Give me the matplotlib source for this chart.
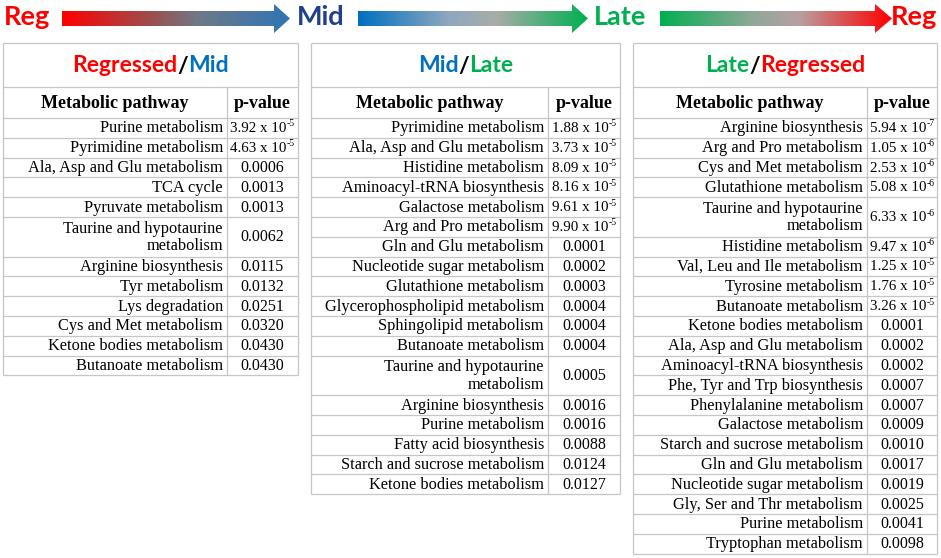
import numpy as np
import matplotlib
matplotlib.use("Agg")
import matplotlib.pyplot as plt
from matplotlib.colors import LinearSegmentedColormap
from matplotlib.patches import Polygon

RED = '#FF0000'
BLUE = '#0070C0'
NAVY = '#203F8F'
GREEN = '#00B050'
GRID = '#C6C6C6'
SERIF = 'Liberation Serif'

# ---- data ----
reg_mid_path = ["Purine metabolism", "Pyrimidine metabolism", "Ala, Asp and Glu metabolism",
                "TCA cycle", "Pyruvate metabolism", "Taurine and hypotaurine\nmetabolism",
                "Arginine biosynthesis", "Tyr metabolism", "Lys degradation",
                "Cys and Met metabolism", "Ketone bodies metabolism", "Butanoate metabolism"]
reg_mid_p = ["3.92e-5", "4.63e-5", "0.0006", "0.0013", "0.0013", "0.0062",
             "0.0115", "0.0132", "0.0251", "0.0320", "0.0430", "0.0430"]

mid_late_path = ["Pyrimidine metabolism", "Ala, Asp and Glu metabolism", "Histidine metabolism",
                 "Aminoacyl-tRNA biosynthesis", "Galactose metabolism", "Arg and Pro metabolism",
                 "Gln and Glu metabolism", "Nucleotide sugar metabolism", "Glutathione metabolism",
                 "Glycerophospholipid metabolism", "Sphingolipid metabolism", "Butanoate metabolism",
                 "Taurine and hypotaurine\nmetabolism", "Arginine biosynthesis", "Purine metabolism",
                 "Fatty acid biosynthesis", "Starch and sucrose metabolism", "Ketone bodies metabolism"]
mid_late_p = ["1.88e-5", "3.73e-5", "8.09e-5", "8.16e-5", "9.61e-5", "9.90e-5",
              "0.0001", "0.0002", "0.0003", "0.0004", "0.0004", "0.0004",
              "0.0005", "0.0016", "0.0016", "0.0088", "0.0124", "0.0127"]

late_reg_path = ["Arginine biosynthesis", "Arg and Pro metabolism", "Cys and Met metabolism",
                 "Glutathione metabolism", "Taurine and hypotaurine\nmetabolism", "Histidine metabolism",
                 "Val, Leu and Ile metabolism", "Tyrosine metabolism", "Butanoate metabolism",
                 "Ketone bodies metabolism", "Ala, Asp and Glu metabolism", "Aminoacyl-tRNA biosynthesis",
                 "Phe, Tyr and Trp biosynthesis", "Phenylalanine metabolism", "Galactose metabolism",
                 "Starch and sucrose metabolism", "Gln and Glu metabolism", "Nucleotide sugar metabolism",
                 "Gly, Ser and Thr metabolism", "Purine metabolism", "Tryptophan metabolism"]
late_reg_p = ["5.94e-7", "1.05e-6", "2.53e-6", "5.08e-6", "6.33e-6", "9.47e-6",
              "1.25e-5", "1.76e-5", "3.26e-5", "0.0001", "0.0002", "0.0002",
              "0.0007", "0.0007", "0.0009", "0.0010", "0.0017", "0.0019",
              "0.0025", "0.0041", "0.0098"]

titles = [[("Regressed", RED), ("/", "black"), ("Mid", BLUE)],
          [("Mid", BLUE), ("/", "black"), ("Late", GREEN)],
          [("Late", GREEN), ("/", "black"), ("Regressed", RED)]]

stages = [("Reg", RED), ("Mid", NAVY), ("Late", GREEN), ("Reg", RED)]


fig = plt.figure(figsize=(9.41, 5.58), dpi=100)
ax = fig.add_axes([0, 0, 1, 1])
ax.set_xlim(0, 941)
ax.set_ylim(558, 0)
ax.axis('off')
renderer = fig.canvas.get_renderer()


def width(t):
    return t.get_window_extent(renderer).width


# ---- banner: stage labels and gradient arrows ----
stage_x = [4, 297, 594, 891]
for (lab, col), x in zip(stages, stage_x):
    ax.text(x, 17, lab, color=col, fontsize=19.5, fontweight='bold', family='Lato',
            ha='left', va='center')

arrows = [(62, 274, 290, [RED, '#9A5050', '#6E7A88', '#2E75B6']),
          (358, 572, 588, [BLUE, '#8FA8BE', '#A8ADA8', GREEN]),
          (660, 875, 892, [GREEN, '#8FA898', '#B8A0A0', RED])]
for x0, xb, xt, cols in arrows:
    cy, sh, hh = 18.5, 7.5, 14.5
    verts = [(x0, cy - sh), (xb, cy - sh), (xb, cy - hh), (xt, cy), (xb, cy + hh),
             (xb, cy + sh), (x0, cy + sh)]
    poly = Polygon(verts, closed=True, facecolor='none', edgecolor='none')
    ax.add_patch(poly)
    cmap = LinearSegmentedColormap.from_list('g', list(zip([0, 0.4, 0.6, 1], cols)))
    grad = np.linspace(0, 1, 256).reshape(1, -1)
    im = ax.imshow(grad, cmap=cmap, extent=[x0, xt, cy + hh, cy - hh], aspect='auto',
                   interpolation='bilinear')
    im.set_clip_path(poly)
ax.set_xlim(0, 941)
ax.set_ylim(558, 0)


def pvalue_text(xc, yc, s):
    if 'e' not in s:
        ax.text(xc, yc, s, fontsize=11.5, family=SERIF, ha='center', va='center')
        return
    m, e = s.split('e')
    base = ax.text(0, yc, m + " x 10", fontsize=10.8, family=SERIF, ha='left', va='center')
    sup = ax.text(0, yc - 4.5, e, fontsize=7, family=SERIF, ha='left', va='center')
    wb, ws = width(base), width(sup)
    x = xc - (wb + ws) / 2
    base.set_x(x)
    sup.set_x(x + wb + 0.5)


# ---- tables ----
tables = [(reg_mid_path, reg_mid_p), (mid_late_path, mid_late_p), (late_reg_path, late_reg_p)]
cols_x = [(3, 227, 298), (311, 548, 620), (633, 867, 937)]
top, head_top, body_top, unit = 43, 87, 118, 19.8

for ti, ((paths, pvals), (xl, xd, xr)) in enumerate(zip(tables, cols_x)):
    heights = [2 if '\n' in p else 1 for p in paths]
    bottom = body_top + unit * sum(heights)
    kw = dict(color=GRID, lw=0.9, solid_capstyle='butt')
    ax.plot([xl, xl], [top, bottom], **kw)
    ax.plot([xr, xr], [top, bottom], **kw)
    ax.plot([xd, xd], [head_top, bottom], **kw)
    ax.plot([xl, xr], [top, top], **kw)
    ax.plot([xl, xr], [head_top, head_top], **kw)

    # title with coloured parts, centred
    parts = []
    for s, c in titles[ti]:
        parts.append(ax.text(0, (top + head_top) / 2 + 1, s, color=c, fontsize=16.5,
                             fontweight='bold', family='Lato', ha='left', va='center'))
    widths = [width(t) for t in parts]
    x = (xl + xr) / 2 - sum(widths) / 2
    for t, w in zip(parts, widths):
        t.set_x(x)
        x += w

    hy = (head_top + body_top) / 2 + 1
    ax.text((xl + xd) / 2, hy, "Metabolic pathway", fontsize=13, fontweight='bold',
            family=SERIF, ha='center', va='center')
    ax.text((xd + xr) / 2, hy, "p-value", fontsize=13, fontweight='bold',
            family=SERIF, ha='center', va='center')

    y = body_top
    for p, v, h in zip(paths, pvals, heights):
        ax.plot([xl, xr], [y, y], **kw)
        yc = y + unit * h / 2 + 0.5
        ax.text(xd - 4, yc, p, fontsize=11.8, family=SERIF, ha='right',
                va='center', multialignment='right', linespacing=1.12)
        pvalue_text((xd + xr) / 2, yc, v)
        y += unit * h
    ax.plot([xl, xr], [y, y], **kw)

fig.savefig("out.png", dpi=100)
